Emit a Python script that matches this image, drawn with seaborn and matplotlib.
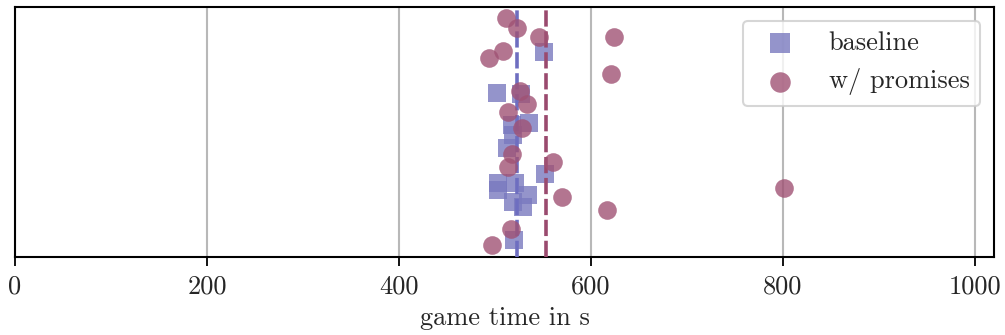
import numpy as np
import pandas as pd
import matplotlib
matplotlib.use("Agg")
import matplotlib.pyplot as plt
import seaborn as sns

# ---- data ----
baseline_time = [551.0, 502.4, 526.8, 517.4, 535.7, 519.1, 512.2, 552.1,
                 503.4, 503.4, 520.8, 534.7, 519.1, 528.9, 519.8]
baseline_pos = [0.821, 0.654, 0.651, 0.527, 0.534, 0.487, 0.434, 0.331,
                0.293, 0.267, 0.293, 0.246, 0.220, 0.200, 0.066]

promises_time = [511.1, 523.2, 546.1, 624.0, 508.0, 493.8, 620.5, 526.0,
                 533.0, 513.9, 527.8, 517.4, 560.7, 513.2, 570.3, 616.4,
                 516.4, 497.4, 801.0]
promises_pos = [0.955, 0.915, 0.881, 0.879, 0.824, 0.794, 0.731, 0.665,
                0.611, 0.578, 0.514, 0.411, 0.379, 0.358, 0.238, 0.186,
                0.109, 0.046, 0.273]

series_labels = ["baseline", "w/ promises"]
xticks = [0, 200, 400, 600, 800, 1000]

# ---- style ----
sns.set_theme(style="white")
plt.rcParams["font.family"] = ["cmr10", "DejaVu Serif"]
plt.rcParams["axes.formatter.use_mathtext"] = True
plt.rcParams["axes.unicode_minus"] = False

FS = 19
c_base = "#7979bf"
c_prom = "#a05274"

fig = plt.figure(figsize=(10.05, 3.35), dpi=100)
ax = fig.add_axes([15 / 1005, (335 - 256.5) / 335, (994 - 15) / 1005, (256.5 - 7) / 335])

df_b = pd.DataFrame({"time": baseline_time, "pos": baseline_pos})
df_p = pd.DataFrame({"time": promises_time, "pos": promises_pos})

sns.scatterplot(data=df_b, x="time", y="pos", ax=ax, marker="s", s=180,
                color=c_base, alpha=0.8, linewidth=0, label=series_labels[0], zorder=3)
sns.scatterplot(data=df_p, x="time", y="pos", ax=ax, marker="o", s=180,
                color=c_prom, alpha=0.8, linewidth=0, label=series_labels[1], zorder=4)

ax.axvline(np.mean(baseline_time), color="#6e6ec0", lw=2.6, ls=(0, (4.5, 1.3)), zorder=3.5)
ax.axvline(np.mean(promises_time), color="#9a4a6e", lw=2.6, ls=(0, (4.5, 1.3)), zorder=3.5)

ax.set_xlim(0, 1020)
ax.set_ylim(0, 1)
ax.set_xticks(xticks)
ax.set_xticklabels([str(t) for t in xticks])
ax.set_yticks([])
ax.set_ylabel("")
ax.set_xlabel("game time in s", fontsize=FS, labelpad=5)
ax.tick_params(axis="x", labelsize=FS, length=6.5, width=1.3, color="black",
               direction="out", bottom=True, pad=7)
ax.grid(axis="x", color="#b8b8b8", lw=1.5, zorder=0)
ax.set_axisbelow(True)
for sp in ax.spines.values():
    sp.set_color("black")
    sp.set_linewidth(1.5)

leg = ax.legend(loc="upper right", fontsize=FS, frameon=True, fancybox=True,
                framealpha=0.8, edgecolor="#cccccc", borderaxespad=0.53,
                handletextpad=0.85, labelspacing=0.5, markerscale=1.1)
leg.get_frame().set_linewidth(1.5)

fig.savefig("out.png", dpi=100)
